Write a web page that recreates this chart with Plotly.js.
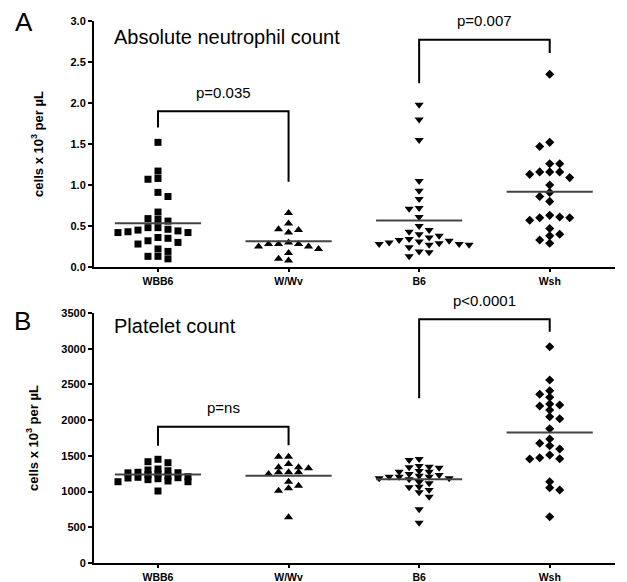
<!DOCTYPE html>
<html>
<head>
<meta charset="utf-8">
<script src="https://cdn.plot.ly/plotly-3.0.1.min.js"></script>
<style>html,body{margin:0;padding:0;background:#fff;}#chart{width:627px;height:582px;}</style>
</head>
<body>
<div id="chart"></div>
<script>
// ---- data ----
const categories = ['WBB6', 'W/Wv', 'B6', 'Wsh'];

const neutWBB6 = [1.52,1.17,1.08,1.07,0.91,0.86,0.67,0.58,0.56,0.59,0.48,0.45,0.43,0.42,0.48,0.42,0.44,0.46,0.35,0.30,0.28,0.32,0.36,0.22,0.19,0.13,0.10,0.13];
const neutWWv  = [0.66,0.45,0.42,0.46,0.53,0.28,0.28,0.25,0.22,0.25,0.28,0.30,0.17,0.08,0.10];
const neutB6   = [1.98,1.80,1.55,1.05,0.93,0.83,0.71,0.72,0.61,0.50,0.45,0.40,0.43,0.36,0.38,0.30,0.33,0.28,0.31,0.27,0.28,0.34,0.29,0.27,0.32,0.19,0.13,0.18,0.24];
const neutWsh  = [2.35,1.52,1.47,1.26,1.26,1.16,1.16,1.13,1.16,1.09,1.00,0.91,0.86,0.80,0.60,0.57,0.60,0.61,0.63,0.47,0.38,0.29,0.33,0.40];

const platWBB6 = [1452,1404,1418,1316,1292,1194,1148,1264,1250,1167,1216,1270,1138,1190,1302,1208,1138,1200,1236,1262,1008,1180];
const platWWv  = [1488,1488,1386,1340,1326,1270,1246,1270,1270,1340,1138,1046,1012,1082,640];
const platB6   = [1456,1442,1358,1340,1334,1348,1246,1222,1278,1278,1288,1232,1208,1208,1208,1186,1186,1172,1068,1022,1116,1134,1060,928,990,752,564];
const platWsh  = [3028,2562,2412,2320,2362,2212,2226,2198,2142,2048,2020,1880,1736,1676,1642,1596,1474,1456,1460,1512,1138,1054,1022,648];

const neutTicks = [0, 0.5, 1.0, 1.5, 2.0, 2.5, 3.0];
const platTicks = [0, 500, 1000, 1500, 2000, 2500, 3000, 3500];

// comparisons: [groupA, groupB, bracket top, left leg end, right leg end, label]
const neutComparisons = [[0, 1, 1.90, 1.70, 1.04, 'p=0.035'], [2, 3, 2.77, 2.24, 2.61, 'p=0.007']];
const platComparisons = [[0, 1, 1908, 1642, 1650, 'p=ns'], [2, 3, 3411, 2305, 3238, 'p<0.0001']];

const panelTitles = ['Absolute neutrophil count', 'Platelet count'];
const panelLetters = ['A', 'B'];
const yTitle = 'cells x 10<sup>3</sup> per µL';

// ---- layout geometry ----
const W = 627, H = 582;
const M = {l: 94, r: 12, t: 21, b: 19};
const plotW = W - M.l - M.r, plotH = H - M.t - M.b;
const xRange = [-0.49, 3.5];
const domA = [(563 - 267) / plotH, 1.0];
const domB = [0, (563 - 313) / plotH];
const rangeA = [0, 3.0], rangeB = [0, 3500];
const pxPerX = plotW / (xRange[1] - xRange[0]);

function swarmOffsets(vals, pxPerUnit, minDy) {
  const stepPx = 10;
  const order = vals.map((v, i) => i).sort((a, b) => vals[b] - vals[a]);
  const placed = [];
  const cols = new Array(vals.length);
  let flip = true;
  for (const i of order) {
    const y = vals[i] * pxPerUnit;
    for (let k = 0; k < 50; k++) {
      let cands = k === 0 ? [0] : (flip ? [-k, k] : [k, -k]);
      let found = null;
      for (const c of cands) {
        if (!placed.some(p => p.c === c && Math.abs(p.y - y) < minDy)) { found = c; break; }
      }
      if (found !== null) {
        if (found !== 0) flip = !flip;
        placed.push({c: found, y: y});
        cols[i] = found;
        break;
      }
    }
  }
  return cols.map(c => c * stepPx / pxPerX);
}

const mean = a => a.reduce((s, v) => s + v, 0) / a.length;
const symbols = ['square', 'triangle-up', 'triangle-down', 'diamond'];
const sizes = [7, 8, 8, 7];

const traces = [];
function addPanel(groups, xa, ya, dom, range, minDy) {
  const pxPerUnit = (dom[1] - dom[0]) * plotH / (range[1] - range[0]);
  groups.forEach((vals, gi) => {
    const offs = swarmOffsets(vals, pxPerUnit, minDy);
    traces.push({
      type: 'scatter', mode: 'markers', xaxis: xa, yaxis: ya,
      x: vals.map((v, i) => gi + offs[i]), y: vals,
      marker: {symbol: symbols[gi], size: sizes[gi], color: '#000', line: {width: 0}},
      cliponaxis: false, showlegend: false, hoverinfo: 'y'
    });
    const m = mean(vals);
    traces.push({
      type: 'scatter', mode: 'lines', xaxis: xa, yaxis: ya,
      x: [gi - 0.33, gi + 0.33], y: [m, m],
      line: {color: '#444', width: 2}, showlegend: false, hoverinfo: 'skip'
    });
  });
}
addPanel([neutWBB6, neutWWv, neutB6, neutWsh], 'x', 'y', domA, rangeA, 7);
addPanel([platWBB6, platWWv, platB6, platWsh], 'x2', 'y2', domB, rangeB, 4.5);

const font = 'Arial, "Liberation Sans", sans-serif';
const tickTextBold = categories.map(c => '<b>' + c + '</b>');
function xAxis(anchor) {
  return {
    anchor: anchor, range: xRange, domain: [0, 1], tickmode: 'array',
    tickvals: categories.map((c, i) => i), ticktext: tickTextBold,
    ticks: 'outside', ticklen: 3, tickwidth: 2, tickcolor: '#000',
    showline: true, linecolor: '#000', linewidth: 2, showgrid: false, zeroline: false,
    tickfont: {family: font, size: 10.5, color: '#000'}, fixedrange: true
  };
}
function yAxis(anchor, dom, range, ticks, fmt, standoff) {
  return {
    anchor: anchor, domain: dom, range: range, tickmode: 'array', tickvals: ticks,
    ticktext: ticks.map(t => '<b>' + (fmt ? t.toFixed(1) : String(t)) + '</b>'),
    ticks: 'outside', ticklen: 4, tickwidth: 2, tickcolor: '#000',
    showline: true, linecolor: '#000', linewidth: 2, showgrid: false, zeroline: false,
    tickfont: {family: font, size: 11, color: '#000'},
    title: {text: '<b>' + yTitle + '</b>', font: {family: font, size: 13, color: '#000'}, standoff: standoff},
    fixedrange: true
  };
}

const shapes = [], annotations = [];
function addComparisons(list, xref, yref) {
  list.forEach(([a, b, top, l, r, label]) => {
    shapes.push({
      type: 'path', xref: xref, yref: yref,
      path: `M ${a},${l} L ${a},${top} L ${b},${top} L ${b},${r}`,
      line: {color: '#000', width: 2}
    });
    annotations.push({
      xref: xref, yref: yref, x: (a + b) / 2, y: top, yshift: 19,
      text: label, showarrow: false, xanchor: 'center', yanchor: 'middle',
      font: {family: font, size: 15, color: '#000'}
    });
  });
}
addComparisons(neutComparisons, 'x', 'y');
addComparisons(platComparisons, 'x2', 'y2');

const px2x = px => (px - M.l) / plotW;
const py2y = py => (H - M.b - py) / plotH;
annotations.push(
  {xref: 'paper', yref: 'paper', x: px2x(112), y: py2y(37), xanchor: 'left', yanchor: 'middle', showarrow: false,
   text: panelTitles[0], font: {family: font, size: 20, color: '#000'}},
  {xref: 'paper', yref: 'paper', x: px2x(112), y: py2y(326), xanchor: 'left', yanchor: 'middle', showarrow: false,
   text: panelTitles[1], font: {family: font, size: 20, color: '#000'}},
  {xref: 'paper', yref: 'paper', x: px2x(24), y: py2y(22), xanchor: 'center', yanchor: 'middle', showarrow: false,
   text: panelLetters[0], font: {family: font, size: 26, color: '#000'}},
  {xref: 'paper', yref: 'paper', x: px2x(22), y: py2y(321), xanchor: 'center', yanchor: 'middle', showarrow: false,
   text: panelLetters[1], font: {family: font, size: 26, color: '#000'}}
);

const layout = {
  width: W, height: H, margin: M, paper_bgcolor: '#fff', plot_bgcolor: '#fff',
  showlegend: false,
  xaxis: xAxis('y'), yaxis: yAxis('x', domA, rangeA, neutTicks, true, 24),
  xaxis2: xAxis('y2'), yaxis2: yAxis('x2', domB, rangeB, platTicks, false, 20),
  shapes: shapes, annotations: annotations
};

Plotly.newPlot('chart', traces, layout, {displayModeBar: false, staticPlot: true});
</script>
</body>
</html>
